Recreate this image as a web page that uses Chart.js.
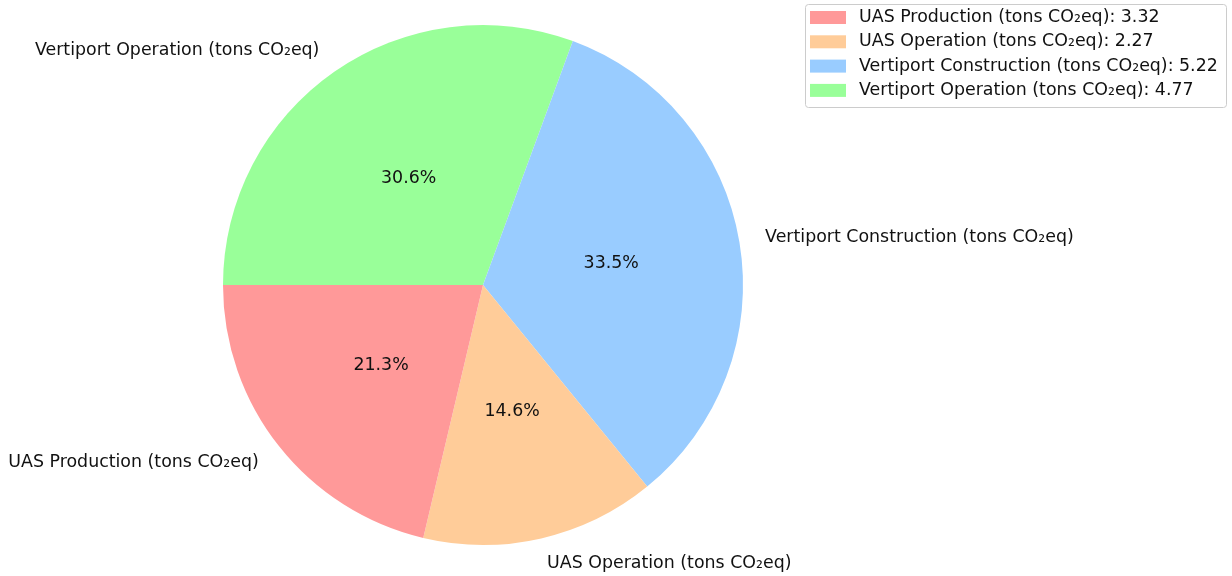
<!DOCTYPE html>
<html>
<head>
<meta charset="utf-8">
<script src="https://cdn.jsdelivr.net/npm/chart.js@4.4.1/dist/chart.umd.min.js"></script>
<style>
html,body{margin:0;padding:0;background:#fff;}
canvas{display:block;}
</style>
</head>
<body>
<canvas id="c" width="1232" height="576"></canvas>
<script>
const categories = ["UAS Production", "UAS Operation", "Vertiport Construction", "Vertiport Operation"];
const unitSuffix = " (tons CO\u2082eq)";
const values = [3.32, 2.27, 5.22, 4.77];
const colors = ["#ff9999", "#ffcc99", "#99ccff", "#99ff99"];

const FONT = '17.4px "DejaVu Sans"';
const TEXT = '#111';
const total = values.reduce((a, b) => a + b, 0);

// matplotlib draws counter-clockwise from 9 o'clock; Chart.js draws clockwise,
// so feed the data reversed and start at 9 o'clock.
const rev = a => a.slice().reverse();
const idxMap = rev(categories.map((_, i) => i));

const labelPlugin = {
  id: 'pieLabels',
  afterDatasetsDraw(chart) {
    const ctx = chart.ctx;
    const meta = chart.getDatasetMeta(0);
    ctx.save();
    ctx.font = FONT;
    ctx.fillStyle = TEXT;
    ctx.textBaseline = 'middle';
    meta.data.forEach((arc, j) => {
      const i = idxMap[j];
      const p = arc.getProps(['x', 'y', 'startAngle', 'endAngle', 'outerRadius'], true);
      const mid = (p.startAngle + p.endAngle) / 2;
      const cx = p.x, cy = p.y, r = p.outerRadius;
      const pct = (values[i] / total * 100).toFixed(1) + '%';
      ctx.textAlign = 'center';
      ctx.fillText(pct, cx + Math.cos(mid) * r * 0.5, cy + Math.sin(mid) * r * 0.5);
      const lx = cx + Math.cos(mid) * r * 1.1;
      const ly = cy + Math.sin(mid) * r * 1.1;
      ctx.textAlign = Math.cos(mid) >= 0 ? 'left' : 'right';
      ctx.fillText(categories[i] + unitSuffix, lx, ly);
    });
    ctx.restore();
  }
};

const legendPlugin = {
  id: 'customLegend',
  afterDraw(chart) {
    const ctx = chart.ctx;
    const bx = 805.5, by = 4.5, bw = 421, bh = 103;
    ctx.save();
    ctx.fillStyle = 'rgba(255,255,255,0.85)';
    ctx.strokeStyle = '#cccccc';
    ctx.lineWidth = 1;
    ctx.beginPath();
    ctx.roundRect(bx, by, bw, bh, 3);
    ctx.fill();
    ctx.stroke();
    ctx.font = FONT;
    ctx.textBaseline = 'middle';
    ctx.textAlign = 'left';
    categories.forEach((c, i) => {
      const y = 17.5 + i * 24.3;
      ctx.fillStyle = colors[i];
      ctx.fillRect(810, y - 6.5, 36, 13);
      ctx.fillStyle = TEXT;
      ctx.fillText(c + unitSuffix + ': ' + values[i].toFixed(2), 859, y);
    });
    ctx.restore();
  }
};

new Chart(document.getElementById('c'), {
  type: 'pie',
  data: {
    labels: rev(categories),
    datasets: [{
      data: rev(values),
      backgroundColor: rev(colors),
      borderWidth: 0
    }]
  },
  options: {
    responsive: false,
    animation: false,
    rotation: -90,
    layout: { padding: { left: 223, right: 489, top: 25, bottom: 31 } },
    plugins: {
      legend: { display: false },
      tooltip: { enabled: false }
    }
  },
  plugins: [labelPlugin, legendPlugin]
});
</script>
</body>
</html>
